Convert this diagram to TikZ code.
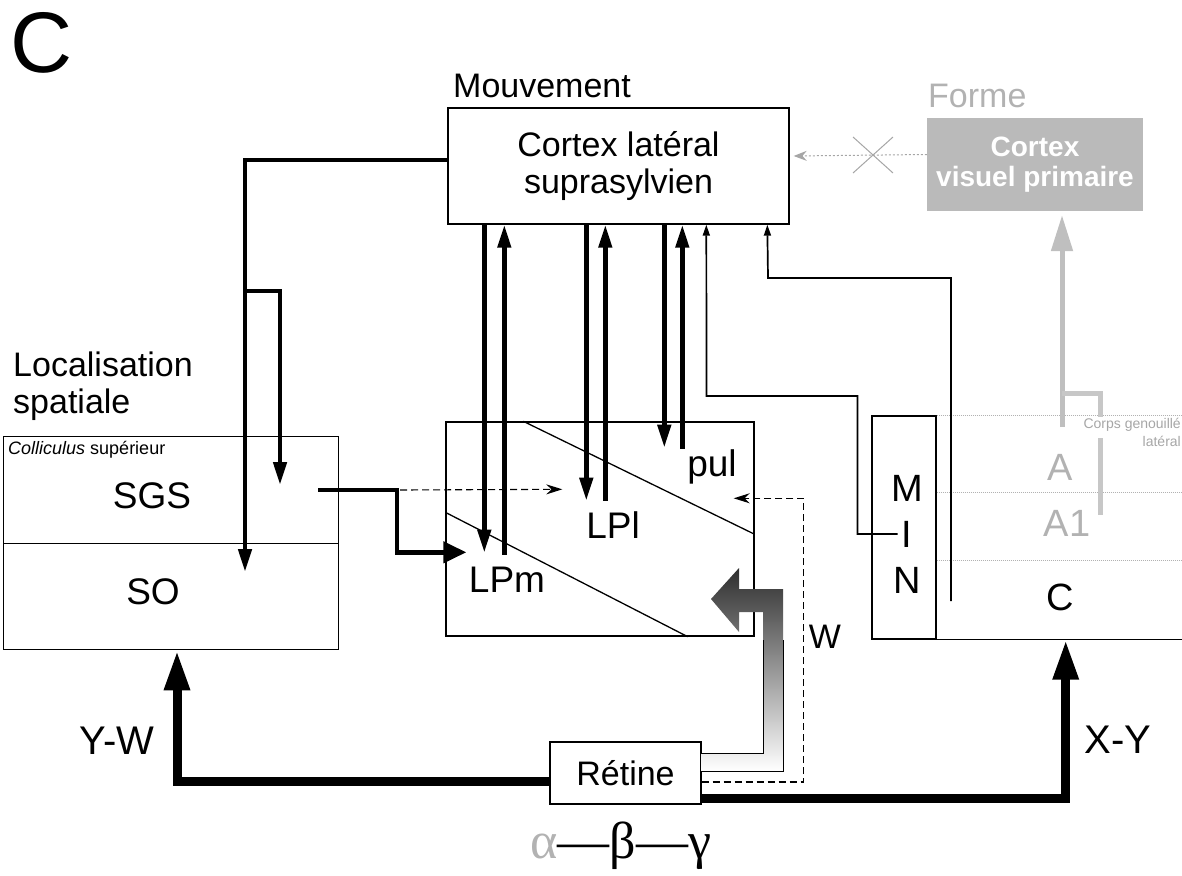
\documentclass[tikz,border=0pt]{standalone}
\usepackage{fontspec}
\setmainfont{Liberation Sans}
\newfontfamily\greekfont{Liberation Serif}
\usetikzlibrary{arrows.meta, calc}

\tikzset{
  box/.style={draw, line width=1.4pt, inner sep=0pt},
  lbl/.style={inner sep=0pt, font=\fontsize{34}{37}\selectfont},
  nucl/.style={inner sep=0pt, font=\fontsize{37}{40}\selectfont},
  pair/.style={line width=4.5pt, -{Triangle[length=23pt,width=13pt]}},
  thinarr/.style={line width=1.7pt, -{Triangle[length=11pt,width=7pt]}},
  dasharr/.style={line width=1.1pt, dash pattern=on 7pt off 4pt, -{Stealth[length=16pt,width=10pt]}},
  dotarr/.style={black!35, line width=1pt, dash pattern=on 2pt off 2pt, -{Stealth[length=13pt,width=10pt]}},
  retarr/.style={line width=9pt, -{Triangle[length=40pt,width=24pt]}},
  layer/.style={black!30, line width=1pt, densely dotted}
}

\begin{document}
\begin{tikzpicture}[x=1pt, y=-1pt]
    \useasboundingbox (0,0) rectangle (1182,875);

    % Panel letter
    \node[inner sep=0pt, font=\fontsize{86}{86}\selectfont] (panel) at (42,43) {C};

    % Top: lateral suprasylvian cortex
    \node[lbl, anchor=north west] (mvt) at (453,74) {Mouvement};
    \node[box, lbl, minimum width=341pt, minimum height=116pt, align=center] (cls) at (618.5,166) {Cortex latéral\\suprasylvien};

    % Top right: primary visual cortex (grey)
    \node[lbl, black!30, anchor=north west] (forme) at (928,84) {Forme};
    \node[fill=black!27, minimum width=216pt, minimum height=93pt, inner sep=0pt, align=center, text=white,
          font=\bfseries\fontsize{28}{30}\selectfont] (cvp) at (1035,164.5) {Cortex\\visuel primaire};
    \draw[dotarr] ([yshift=10pt]cvp.west) -- ([shift={(4,-10)}]cls.east);
    \draw[black!35, line width=1pt] (853,137) -- (893,173) (853,173) -- (893,137);

    % Left side: superior colliculus
    \node[lbl, anchor=north west, align=left] (loc) at (13,352) {Localisation\\spatiale};
    \node[box, anchor=north west, minimum width=335pt, minimum height=107pt] (sgsbox) at (3,436) {};
    \node[box, anchor=north west, minimum width=335pt, minimum height=106pt] (sobox) at (3,543) {};
    \node[inner sep=0pt, anchor=north west, font=\fontsize{18}{20}\selectfont] (csup) at (8,441) {\textit{Colliculus} supérieur};
    \node[nucl] (sgs) at (152,496) {SGS};
    \node[nucl] (so) at (153,592) {SO};

    % Middle: pulvinar complex
    \node[box, minimum width=308pt, minimum height=214pt] (pulv) at (600,529) {};
    \draw[line width=1.3pt] ([xshift=78pt]pulv.north west) -- ([yshift=-113pt]pulv.north east);
    \draw[line width=1.3pt] ([yshift=-91pt]pulv.north west) -- ([xshift=-67pt]pulv.south east);
    \node[nucl] (pul) at (712,467) {pul};
    \node[nucl] (lpl) at (613,525) {LPl};
    \node[nucl] (lpm) at (507,580) {LPm};

    % Right side: MIN and lateral geniculate layers
    \node[box, minimum width=64pt, minimum height=223pt] (minbox) at (904,527.5) {};
    \node[inner sep=0pt, font=\fontsize{38}{40}\selectfont] (mM) at (907,488) {M};
    \node[inner sep=0pt, font=\fontsize{38}{40}\selectfont] (mI) at (907,534) {I};
    \node[inner sep=0pt, font=\fontsize{38}{40}\selectfont] (mN) at (907,580) {N};
    \draw[line width=1.4pt] (minbox.south east) -- ++(246,0);
    \draw[layer] (minbox.north east) -- ++(246,0);
    \draw[layer] ([yshift=-77pt]minbox.north east) -- ++(246,0);
    \draw[layer] ([yshift=-145pt]minbox.north east) -- ++(246,0);
    \node[inner sep=0pt, black!30, font=\fontsize{38}{40}\selectfont] (layA) at (1060,467) {A};
    \node[inner sep=0pt, black!30, font=\fontsize{38}{40}\selectfont] (layA1) at (1067,523) {A1};
    \node[inner sep=0pt, font=\fontsize{38}{40}\selectfont] (layC) at (1060,597) {C};
    \node[inner sep=0pt, black!35, anchor=north east, align=right, font=\fontsize{14}{18}\selectfont] (cgl) at (1181,418) {Corps genouillé\\latéral};

    % Grey path to primary visual cortex
    \coordinate (lgnA) at (1062,427);
    \draw[black!25, line width=5pt, -{Triangle[length=36pt,width=21pt]}] (lgnA) -- ([shift={(27,4)}]cvp.south);
    \draw[black!22, line width=5pt] (1062,393) -| (1100,417) (1100,438) -- (1100,515);

    % Vertical arrows cortex <-> pulvinar
    \foreach \dx/\len in {37/328, 139/276, 217/223}
        \draw[pair] ([xshift=\dx pt]cls.south west) -- ++(0,\len);
    \foreach \dx/\len in {57/330, 158/276, 235/224}
        \draw[pair] ([shift={(\dx,\len)}]cls.south west) -- ([xshift=\dx pt]cls.south west);

    % Cortex -> colliculus
    \draw[pair] ([yshift=6pt]cls.west) -| ([shift={(242,29)}]sobox.north west);
    \coordinate (split) at (243,291);
    \draw[pair] (split) -| ([shift={(277,49)}]sgsbox.north west);

    % Colliculus -> pulvinar
    \draw[pair, -{Triangle[length=23pt,width=21pt]}] ([shift={(315,54)}]sgsbox.north west) -- ++(79,0) |- ([shift={(21,131)}]pulv.north west);
    \draw[dasharr] ([shift={(397,54)}]sgsbox.north west) -- ([shift={(117,68)}]pulv.north west);

    % MIN and LGN -> cortex
    \draw[thinarr] ([xshift=-4pt]mI.west) -- ++(-40,0) |- ++(-151,-138) -- ([xshift=259pt]cls.south west);
    \coordinate (lgnC) at (951,601);
    \draw[thinarr] (lgnC) |- ++(-183,-323) -- ([xshift=320pt]cls.south west);

    % Bottom: retina
    \node[box, lbl, minimum width=151pt, minimum height=62pt] (ret) at (625.5,773) {Rétine};
    \draw[retarr] ([yshift=-8pt]ret.west) -| ([xshift=174pt]sobox.south west);
    \draw[retarr] ([yshift=-25pt]ret.east) -| ([xshift=129pt]minbox.south east);
    \draw[dasharr] ([yshift=-9pt]ret.east) -- ++(102,0) |- ([shift={(-21,77)}]pulv.north east);

    % Shaded W arrow into pulvinar
    \shade[top color=black!82, middle color=black!40, bottom color=white]
        (711,599) -- (739,568) -- (739,589) -- (783,589) -- (783,771) -- (701,771) -- (701,753)
        -- (763,753) -- (763,612) -- (739,612) -- (739,632) -- cycle;
    \draw[line width=1pt] (783,640) -- (783,771) -- (701,771) (701,753) -- (763,753) -- (763,640);

    % Pathway labels
    \node[inner sep=0pt, font=\fontsize{40}{40}\selectfont] (yw) at (117,741) {Y-W};
    \node[inner sep=0pt, font=\fontsize{40}{40}\selectfont] (xy) at (1118,740) {X-Y};
    \node[lbl] (w) at (825,637) {W};
    \node[inner sep=0pt, font=\greekfont\fontsize{52}{52}\selectfont] (abg) at (621,846) {{\color{black!30}α}—β—γ};
\end{tikzpicture}
\end{document}
